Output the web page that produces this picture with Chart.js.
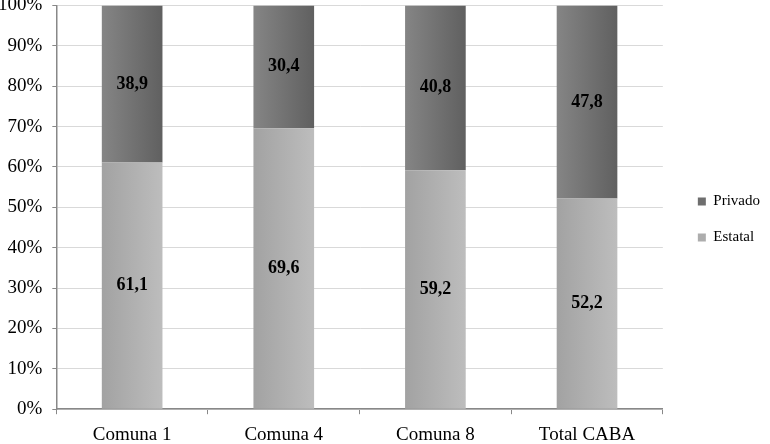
<!DOCTYPE html>
<html>
<head>
<meta charset="utf-8">
<script src="https://cdn.jsdelivr.net/npm/chart.js@4"></script>
<style>
  body { margin: 0; background: #fff; overflow: hidden; }
  canvas { display: block; margin-left: -12px; margin-top: -16px; }
</style>
</head>
<body>
<canvas id="chart" width="782" height="471"></canvas>
<script>
const categories = ["Comuna 1", "Comuna 4", "Comuna 8", "Total CABA"];
const estatal = [61.1, 69.6, 59.2, 52.2];
const privado = [38.9, 30.4, 40.8, 47.8];
const yTicks = [0, 10, 20, 30, 40, 50, 60, 70, 80, 90, 100];

// horizontal gradient across each bar
function barGradient(c1, c2) {
    return function (ctx) {
        const chart = ctx.chart;
        const x = chart.scales.x;
        if (!x || ctx.dataIndex === undefined) return c1;
        const cx = x.getPixelForValue(ctx.dataIndex);
        const w = (x.width / categories.length) * 0.4;
        const g = chart.ctx.createLinearGradient(cx - w / 2, 0, cx + w / 2, 0);
        g.addColorStop(0, c1);
        g.addColorStop(1, c2);
        return g;
    };
}

const valueLabels = {
    id: "valueLabels",
    afterDatasetsDraw(chart) {
        const ctx = chart.ctx;
        ctx.save();
        ctx.font = "bold 18px 'Liberation Serif'";
        ctx.fillStyle = "#000";
        ctx.textAlign = "center";
        ctx.textBaseline = "middle";
        chart.data.datasets.forEach(function (ds, i) {
            chart.getDatasetMeta(i).data.forEach(function (bar, j) {
                const mid = (bar.y + bar.base) / 2;
                ctx.fillText(ds.data[j].toFixed(1).replace(".", ","), bar.x, mid);
            });
        });
        ctx.restore();
    }
};

new Chart(document.getElementById("chart"), {
    type: "bar",
    data: {
        labels: categories,
        datasets: [
            {
                label: "Estatal",
                data: estatal,
                backgroundColor: barGradient("#a2a2a2", "#bdbdbd"),
                categoryPercentage: 0.4,
                barPercentage: 1
            },
            {
                label: "Privado",
                data: privado,
                backgroundColor: barGradient("#858585", "#606060"),
                categoryPercentage: 0.4,
                barPercentage: 1
            }
        ]
    },
    options: {
        responsive: false,
        devicePixelRatio: 1,
        animation: false,
        plugins: {
            legend: {
                position: "right",
                reverse: true,
                labels: {
                    boxWidth: 8,
                    boxHeight: 8,
                    padding: 21,
                    color: "#000",
                    font: { family: "'Liberation Serif'", size: 15 },
                    generateLabels(chart) {
                        const cols = ["#adadad", "#6e6e6e"];
                        return chart.data.datasets.map(function (ds, i) {
                            return {
                                text: ds.label,
                                fillStyle: cols[i],
                                strokeStyle: cols[i],
                                lineWidth: 0,
                                datasetIndex: i
                            };
                        });
                    }
                }
            },
            tooltip: { enabled: false }
        },
        scales: {
            x: {
                stacked: true,
                grid: {
                    offset: true,
                    drawOnChartArea: false,
                    drawTicks: true,
                    tickLength: 5,
                    color: "#888"
                },
                border: { color: "#888", width: 1.5 },
                ticks: {
                    color: "#000",
                    padding: 9,
                    font: { family: "'Liberation Serif'", size: 19 }
                }
            },
            y: {
                stacked: true,
                min: 0,
                max: 100,
                afterBuildTicks(axis) {
                    axis.ticks = yTicks.map(function (v) { return { value: v }; });
                },
                grid: {
                    color: "#d9d9d9",
                    tickLength: 4,
                    tickColor: "#888"
                },
                border: { color: "#888", width: 1.5 },
                ticks: {
                    color: "#000",
                    padding: 10,
                    font: { family: "'Liberation Serif'", size: 19 },
                    callback: function (v) { return v + "%"; }
                }
            },
            // empty spacer between plot and legend
            gap: {
                type: "linear",
                position: "right",
                display: true,
                grid: { display: false },
                border: { display: false },
                ticks: { display: false },
                afterFit(axis) { axis.width = 14; }
            }
        }
    },
    plugins: [valueLabels]
});
</script>
</body>
</html>
